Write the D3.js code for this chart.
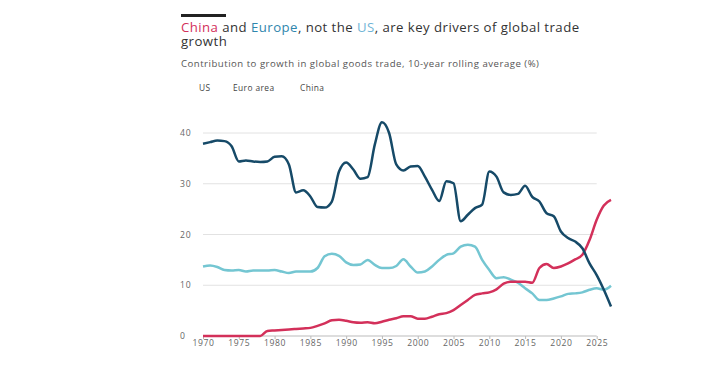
<!DOCTYPE html>
<html>
<head>
<meta charset="utf-8">
<script src="https://cdn.jsdelivr.net/npm/d3@7"></script>
<style>
  body { margin: 0; background: #fff; }
  svg text { font-family: "Open Sans", "DejaVu Sans", sans-serif; }
</style>
</head>
<body>
<div id="chart"></div>
<script>
// data (10-year rolling average, %)
const years = d3.range(1970, 2028);
const usVals = [
  37.9, 38.2, 38.5, 38.4, 37.4, 34.4, 34.6, 34.4, 34.3, 34.4,
  35.3, 35.4, 33.8, 28.3, 28.7, 27.5, 25.4, 25.3, 26.5, 32.4,
  34.2, 32.8, 31.0, 31.3, 37.7, 42.1, 40.0, 33.8, 32.6, 33.4,
  33.5, 31.4, 28.8, 26.6, 30.5, 30.1, 22.6, 23.9, 25.2, 25.9,
  32.4, 31.4, 28.3, 27.8, 28.0, 29.6, 27.4, 26.5, 24.2, 23.6,
  20.6, 19.3, 18.6, 17.3, 14.3, 12.0, 9.1, 5.8
];
const euroVals = [
  13.7, 13.9, 13.6, 13.0, 12.9, 13.0, 12.7, 12.9, 12.9, 12.9,
  13.0, 12.7, 12.4, 12.7, 12.7, 12.7, 13.4, 15.7, 16.2, 15.8,
  14.5, 14.0, 14.1, 15.0, 14.0, 13.4, 13.4, 13.8, 15.1, 13.7,
  12.5, 12.7, 13.7, 15.0, 16.0, 16.3, 17.6, 18.0, 17.6, 15.0,
  13.0, 11.4, 11.6, 11.1, 10.5, 9.4, 8.4, 7.1, 7.1, 7.4,
  7.8, 8.3, 8.4, 8.6, 9.1, 9.4, 9.1, 9.9
];
const chinaVals = [
  0, 0, 0, 0, 0, 0, 0, 0, 0, 1.0,
  1.1, 1.2, 1.3, 1.4, 1.5, 1.6, 2.0, 2.5, 3.1, 3.2,
  3.0, 2.7, 2.6, 2.7, 2.5, 2.8, 3.2, 3.5, 3.9, 3.9,
  3.4, 3.4, 3.8, 4.3, 4.5, 5.1, 6.1, 7.1, 8.1, 8.4,
  8.6, 9.2, 10.3, 10.7, 10.7, 10.7, 10.5, 13.4, 14.2, 13.4,
  13.7, 14.3, 15.1, 16.0, 18.9, 22.9, 25.7, 26.8
];
const yTicks = [0, 10, 20, 30, 40];
const xTicks = d3.range(1970, 2026, 5);
const seriesNames = ['US', 'Euro area', 'China'];
const seriesColors = ['#164a68', '#74c6d2', '#d3305a'];

const W = 724, H = 377;
const svg = d3.select('#chart').append('svg').attr('width', W).attr('height', H);

// title block
svg.append('rect').attr('x', 181).attr('y', 14).attr('width', 45).attr('height', 3).attr('fill', '#222');
const title = svg.append('text').attr('x', 181).attr('y', 32)
  .attr('font-size', 13.2).attr('font-weight', 500).attr('letter-spacing', 0.45).attr('fill', '#333');
title.append('tspan').attr('fill', '#d3305a').text('China');
title.append('tspan').text(' and ');
title.append('tspan').attr('fill', '#2f86ad').text('Europe');
title.append('tspan').text(', not the ');
title.append('tspan').attr('fill', '#6fb4d6').text('US');
title.append('tspan').text(', are key drivers of global trade');
svg.append('text').attr('x', 181).attr('y', 46)
  .attr('font-size', 13.2).attr('font-weight', 500).attr('letter-spacing', 0.45).attr('fill', '#333').text('growth');

svg.append('text').attr('x', 181).attr('y', 67)
  .attr('font-size', 9.6).attr('letter-spacing', 0.5).attr('fill', '#555')
  .text('Contribution to growth in global goods trade, 10-year rolling average (%)');

// legend (text only)
const legX = [199, 233, 300];
seriesNames.forEach((n, i) => {
  svg.append('text').attr('x', legX[i]).attr('y', 91)
    .attr('font-size', 8.4).attr('letter-spacing', 0.4).attr('fill', '#444').text(n);
});

// scales
const x = d3.scaleLinear().domain([1970, 2027]).range([203, 611]);
const y = d3.scaleLinear().domain([0, 40]).range([336, 133]);

// gridlines
svg.append('g').selectAll('line')
  .data(yTicks.filter(d => d > 0))
  .join('line')
  .attr('x1', x(1970)).attr('x2', x(2025))
  .attr('y1', d => y(d)).attr('y2', d => y(d))
  .attr('stroke', '#e2e2e2').attr('stroke-width', 1);

svg.append('g').selectAll('text')
  .data(yTicks)
  .join('text')
  .attr('x', 180).attr('y', d => y(d) + 3)
  .attr('font-size', 8.6).attr('letter-spacing', 0.8).attr('fill', '#666')
  .text(d => d);

// x axis
const xAxis = svg.append('g').attr('transform', `translate(0,${y(0)})`)
  .call(d3.axisBottom(x).tickValues(xTicks).tickFormat(d3.format('d')).tickSize(3).tickSizeOuter(0));
xAxis.select('.domain').attr('stroke', '#bbb').attr('d', `M${x(1970)},0H${x(2025)}`);
xAxis.selectAll('.tick line').attr('stroke', '#bbb');
xAxis.selectAll('.tick text').attr('font-size', 8.6).attr('letter-spacing', 0.6).attr('fill', '#666')
  .attr('font-family', '"Open Sans", sans-serif').attr('dy', '0.45em');

// lines
const line = d3.line()
  .x((d, i) => x(years[i]))
  .y(d => y(d))
  .curve(d3.curveMonotoneX);

[euroVals, chinaVals, usVals].forEach((vals, k) => {
  const idx = [1, 2, 0][k];
  svg.append('path')
    .datum(vals)
    .attr('d', line)
    .attr('fill', 'none')
    .attr('stroke', seriesColors[idx])
    .attr('stroke-width', 2.5)
    .attr('stroke-linejoin', 'round');
});
</script>
</body>
</html>
